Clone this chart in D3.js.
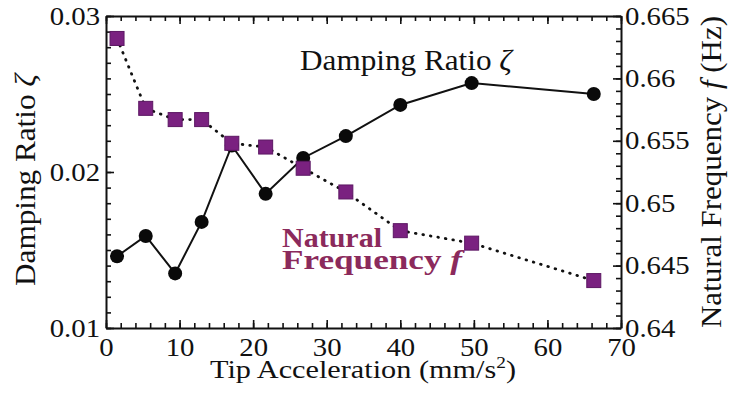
<!DOCTYPE html>
<html>
<head>
<meta charset="utf-8">
<script src="https://cdn.jsdelivr.net/npm/d3@7"></script>
<style>
  body { margin: 0; background: #fff; }
</style>
</head>
<body>
<svg id="chart" width="730" height="394"></svg>
<script>
// tip acceleration (mm/s^2)
const accel = [1.5, 5.4, 9.4, 13.0, 17.1, 21.7, 26.8, 32.6, 40.0, 49.7, 66.3];
// damping ratio zeta (left axis)
const damping = [0.0146, 0.0159, 0.0135, 0.0168, 0.0217, 0.0186, 0.0209, 0.0223, 0.0243, 0.0257, 0.0250];
// natural frequency f in Hz (right axis)
const freq = [0.6632, 0.6576, 0.6567, 0.6567, 0.6548, 0.6545, 0.6528, 0.6509, 0.6478, 0.6468, 0.6438];

const xTicks = [0, 10, 20, 30, 40, 50, 60, 70];
const yLeftTicks = [0.01, 0.02, 0.03];
const yRightTicks = [0.64, 0.645, 0.65, 0.655, 0.66, 0.665];

const padL = 106, padR = 621, padT = 16, padB = 328;
const serif = '"Liberation Serif", Tinos, "Times New Roman", serif';
const svg = d3.select('#chart');

const x = d3.scaleLinear().domain([0, 70]).range([padL, padR]);
const yL = d3.scaleLinear().domain([0.01, 0.03]).range([padB, padT]);
const yR = d3.scaleLinear().domain([0.64, 0.665]).range([padB, padT]);

// the original lettering is a bit wider than Liberation Serif
function widen(sel, k) {
    sel.each(function () {
        const w = this.getComputedTextLength();
        d3.select(this).attr('textLength', w * k).attr('lengthAdjust', 'spacingAndGlyphs');
    });
}
function fitTo(sel, w) {
    sel.attr('textLength', w).attr('lengthAdjust', 'spacingAndGlyphs');
}

// minor ticks first
function minor(axis, vals, tr) {
    svg.append('g')
        .attr('transform', tr)
        .call(axis.tickValues(vals).tickFormat('').tickSizeInner(-5).tickSizeOuter(0))
        .call(g => g.select('.domain').remove());
}
const xMinor = d3.range(0, 70.01, 2);
const yLMinor = d3.range(0, 21).map(i => 0.01 + i * 0.001);
const yRMinor = d3.range(0, 26).map(i => 0.64 + i * 0.001);
minor(d3.axisBottom(x), xMinor, 'translate(0,' + padB + ')');
minor(d3.axisTop(x), xMinor, 'translate(0,' + padT + ')');
minor(d3.axisLeft(yL), yLMinor, 'translate(' + padL + ',0)');
minor(d3.axisRight(yR), yRMinor, 'translate(' + padR + ',0)');

// major axes
svg.append('g')
    .attr('transform', 'translate(0,' + padB + ')')
    .call(d3.axisBottom(x).tickValues(xTicks).tickFormat(d3.format('d')).tickSizeInner(-8).tickSizeOuter(0).tickPadding(10));
svg.append('g')
    .attr('transform', 'translate(0,' + padT + ')')
    .call(d3.axisTop(x).tickValues(xTicks).tickFormat('').tickSizeInner(-8).tickSizeOuter(0));
svg.append('g')
    .attr('transform', 'translate(' + padL + ',0)')
    .call(d3.axisLeft(yL).tickValues(yLeftTicks).tickFormat(d => String(+d.toFixed(3))).tickSizeInner(-8).tickSizeOuter(0).tickPadding(6));
svg.append('g')
    .attr('transform', 'translate(' + padR + ',0)')
    .call(d3.axisRight(yR).tickValues(yRightTicks).tickFormat(d => String(+d.toFixed(3))).tickSizeInner(-8).tickSizeOuter(0).tickPadding(4));

svg.selectAll('.tick line').attr('stroke', '#111').attr('stroke-width', 1.6);
svg.selectAll('.domain').attr('stroke', '#111').attr('stroke-width', 2);
svg.selectAll('.tick text')
    .style('font-family', serif)
    .style('font-size', '25px')
    .style('fill', '#111')
    .call(widen, 1.15);

// damping ratio line
svg.append('path')
    .datum(accel.map((a, i) => [a, damping[i]]))
    .attr('fill', 'none')
    .attr('stroke', '#111')
    .attr('stroke-width', 2)
    .attr('d', d3.line().x(d => x(d[0])).y(d => yL(d[1])));

// frequency dotted line
svg.append('path')
    .datum(accel.map((a, i) => [a, freq[i]]))
    .attr('fill', 'none')
    .attr('stroke', '#111')
    .attr('stroke-width', 2.8)
    .attr('stroke-linecap', 'round')
    .attr('stroke-dasharray', '0.6,7')
    .attr('d', d3.line().x(d => x(d[0])).y(d => yR(d[1])));

svg.append('g').selectAll('circle')
    .data(accel)
    .enter()
    .append('circle')
    .attr('cx', d => x(d))
    .attr('cy', (d, i) => yL(damping[i]))
    .attr('r', 7)
    .attr('fill', '#0a0a0a');

const sq = 14;
svg.append('g').selectAll('rect')
    .data(accel)
    .enter()
    .append('rect')
    .attr('x', d => x(d) - sq / 2)
    .attr('y', (d, i) => yR(freq[i]) - sq / 2)
    .attr('width', sq)
    .attr('height', sq)
    .attr('fill', '#7a2180')
    .attr('stroke', '#5c1763')
    .attr('stroke-width', 1);

// axis titles
const labels = svg.append('g')
    .style('font-family', serif)
    .style('fill', '#111');

labels.append('text')
    .attr('x', 363).attr('y', 378)
    .attr('text-anchor', 'middle')
    .style('font-size', '25px')
    .html('Tip Acceleration (mm/s<tspan dy="-10" font-size="16">2</tspan><tspan dy="10">)</tspan>')
    .call(fitTo, 306);

labels.append('text')
    .attr('transform', 'translate(35,180) rotate(-90)')
    .attr('text-anchor', 'middle')
    .style('font-size', '29px')
    .html('Damping Ratio <tspan font-style="italic">ζ</tspan>')
    .call(fitTo, 212);

labels.append('text')
    .attr('transform', 'translate(721,172) rotate(-90)')
    .attr('text-anchor', 'middle')
    .style('font-size', '29px')
    .html('Natural Frequency <tspan font-style="italic">f</tspan> (Hz)')
    .call(fitTo, 312);

// in-plot labels
labels.append('text')
    .attr('x', 300).attr('y', 70)
    .style('font-size', '29px')
    .html('Damping Ratio <tspan font-style="italic">ζ</tspan>')
    .call(fitTo, 212);

const nfColor = '#8b2a5c';
labels.append('text')
    .attr('x', 282).attr('y', 247)
    .style('font-size', '27px')
    .style('font-weight', 'bold')
    .style('fill', nfColor)
    .text('Natural')
    .call(fitTo, 100);
labels.append('text')
    .attr('x', 282).attr('y', 269)
    .style('font-size', '27px')
    .style('font-weight', 'bold')
    .style('fill', nfColor)
    .html('Frequency <tspan font-style="italic">f</tspan>')
    .call(fitTo, 180);
</script>
</body>
</html>
